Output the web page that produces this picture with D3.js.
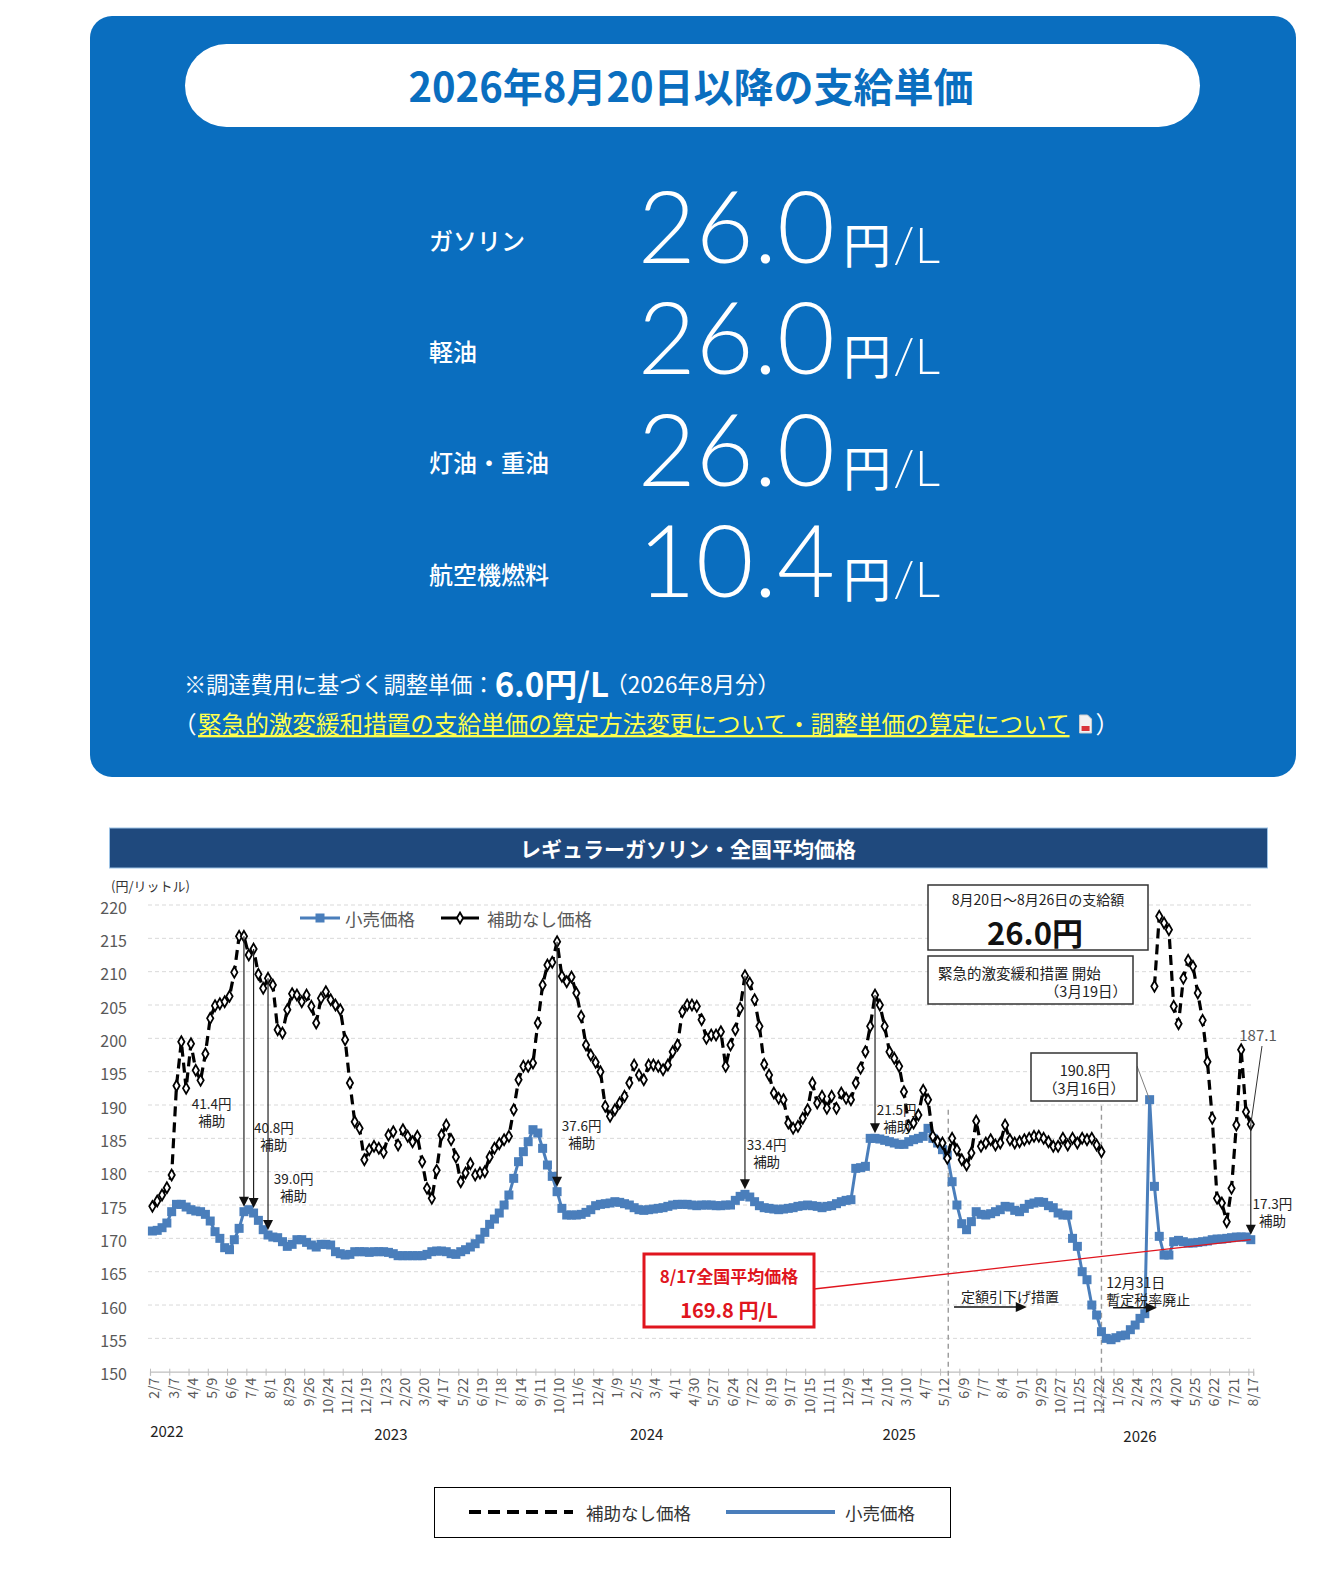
<!DOCTYPE html>
<html><head><meta charset="utf-8">
<script src="https://cdn.jsdelivr.net/npm/d3@7"></script>
<style>html,body{margin:0;padding:0;background:#fff;overflow:hidden}svg{display:block}</style>
</head><body>
<svg id="c" width="1344" height="1576"></svg>
<script>
// ---------- data ----------
const fuelNames = ["ガソリン","軽油","灯油・重油","航空機燃料"];
const fuelRates = ["26.0","26.0","26.0","10.4"];

const xLabels = ["2/7","3/7","4/4","5/9","6/6","7/4","8/1","8/29","9/26","10/24","11/21","12/19",
 "1/23","2/20","3/20","4/17","5/22","6/19","7/18","8/14","9/11","10/10","11/6","12/4",
 "1/9","2/5","3/4","4/1","4/30","5/27","6/24","7/22","8/19","9/17","10/15","11/11","12/9",
 "1/14","2/10","3/10","4/7","5/12","6/9","7/7","8/4","9/1","9/29","10/27","11/25","12/22",
 "1/26","2/24","3/23","4/20","5/25","6/22","7/21","8/17"];
const yTicks = [150,155,160,165,170,175,180,185,190,195,200,205,210,215,220];
const yearLabels = ["2022","2023","2024","2025","2026"];
const yearIndex = [3, 49.5, 102.6, 155, 205];

// 小売価格 (weekly)
const retailPrice = [
171.1,171.2,171.6,172.3,174.0,175.1,175.1,174.7,174.3,174.1,174.0,173.6,172.6,171.0,170.0,168.6,168.3,169.8,171.5,174.0,
174.3,173.8,172.7,171.3,170.5,170.2,170.1,169.5,168.8,169.1,169.8,169.8,169.4,169.0,168.7,169.1,169.1,169.0,168.0,167.7,
167.5,167.6,168.0,168.0,168.0,167.9,168.0,168.0,168.0,167.9,167.7,167.4,167.4,167.4,167.4,167.4,167.4,167.6,168.0,168.1,
168.1,168.0,167.7,167.6,168.0,168.3,168.7,169.2,169.9,170.9,172.1,172.9,173.8,175.0,176.5,179.0,181.5,183.0,184.5,186.3,
185.8,183.5,181.0,179.3,177.0,174.5,173.5,173.5,173.5,173.6,173.9,174.3,174.9,175.1,175.2,175.3,175.5,175.4,175.2,175.0,
174.6,174.3,174.2,174.3,174.4,174.5,174.6,174.8,175.0,175.1,175.1,175.1,175.0,174.9,175.0,175.0,175.0,174.9,174.9,175.0,
175.0,175.7,176.3,176.6,176.2,175.5,174.9,174.6,174.5,174.4,174.3,174.4,174.5,174.6,174.8,174.9,175.0,174.9,174.8,174.6,
174.8,174.9,175.2,175.5,175.7,175.8,180.5,180.6,180.8,185.0,185.0,184.9,184.7,184.5,184.3,184.1,184.1,184.5,184.8,185.0,
185.3,186.5,185.0,184.3,183.3,182.5,178.5,175.0,172.2,171.3,172.5,174.0,173.6,173.5,173.7,174.0,174.3,174.8,174.7,174.2,
174.0,174.5,175.1,175.3,175.5,175.4,174.9,174.6,173.8,173.5,173.5,170.0,168.8,165.0,163.8,160.0,158.5,156.0,155.0,154.8,
155.1,155.4,155.5,156.3,157.0,158.0,158.7,190.8,177.8,170.3,167.5,167.5,169.5,169.7,169.5,169.3,169.3,169.4,169.5,169.6,
169.8,169.9,169.9,170.0,170.1,170.2,170.2,170.2,169.8];

// 補助なし価格 (weekly, null = no data)
const noSubsidyPrice = [
174.8,175.6,176.5,177.6,179.5,192.9,199.5,192.5,199.2,195.2,193.7,197.7,203.0,204.9,205.2,205.5,206.3,209.9,215.3,215.3,
212.5,213.4,209.6,207.5,209.0,208.0,201.3,200.8,204.3,206.7,206.5,205.5,206.5,204.8,202.3,206.0,207.0,205.8,205.0,204.3,
199.8,193.3,187.5,186.5,181.8,183.3,183.8,183.5,182.9,185.5,186.0,184.0,186.3,185.3,184.5,185.3,181.5,177.5,176.0,180.2,
185.5,187.0,184.8,182.2,178.5,179.8,181.2,179.5,179.8,180.0,182.2,183.5,184.2,184.8,185.3,189.3,193.8,195.8,195.8,196.3,
202.3,208.0,211.0,211.4,214.5,209.3,208.5,209.2,206.8,203.3,199.0,197.5,196.4,195.0,189.8,188.3,189.3,190.3,191.3,193.3,
196.0,194.5,193.8,196.0,196.0,195.8,195.3,196.0,198.0,199.0,204.0,205.0,205.0,204.8,202.8,200.0,200.5,200.5,201.0,195.8,
199.0,201.3,204.5,209.4,208.3,205.8,201.8,196.1,194.5,191.8,191.0,190.8,187.3,186.5,186.8,188.0,189.3,193.3,190.3,191.3,
189.5,191.3,189.5,191.8,191.0,190.8,193.3,195.5,198.0,201.8,206.5,205.0,201.8,198.0,197.0,195.8,192.0,186.8,187.3,188.5,
192.2,190.8,185.3,184.5,184.3,182.0,185.0,183.3,181.8,181.0,182.8,187.6,183.8,184.3,184.8,184.0,184.3,187.0,184.8,184.3,
184.5,184.8,185.0,185.3,185.3,185.0,184.5,183.8,183.8,185.0,184.0,185.0,184.3,185.0,184.8,185.0,184.0,183.0,null,null,
null,null,null,null,null,null,null,null,207.8,218.3,217.3,216.3,204.8,202.2,209.0,211.7,210.8,206.8,202.7,196.5,
188.0,176.0,175.3,172.5,177.5,187.0,198.3,189.0,187.1];

// subsidy arrows: week index, label, label anchor (week index, price)
const arrowIndex = [19, 21, 24, 84, 123, 150, 228];
const arrowText = ["41.4円","40.8円","39.0円","37.6円","33.4円","21.5円","17.3円"];
const arrowLabelAt = [[12.3,190.3],[25.2,186.7],[29.3,179.0],[89.1,187.0],[127.5,184.2],[154.5,189.4],[232.5,175.3]];
// event lines (week index): 定額引下げ開始, 暫定税率廃止
const eventIndex = [165.2, 197.0];
const eventTop = [189.3, 189.9];

// ---------- drawing ----------
const svg = d3.select("#c");
const JP = "'Noto Sans CJK JP','Noto Sans',sans-serif";
const NUM = "Lato,'Noto Sans',sans-serif";
const PANEL = "#0a6ebf";

svg.append("rect").attr("width",1344).attr("height",1576).attr("fill","#fff");

// ===== top panel =====
svg.append("rect").attr("x",90).attr("y",16).attr("width",1206).attr("height",761)
  .attr("rx",22).attr("fill",PANEL);
svg.append("rect").attr("x",185).attr("y",44).attr("width",1015).attr("height",83)
  .attr("rx",41.5).attr("fill","#fff");
svg.append("text").attr("x",691).attr("y",84.5).attr("text-anchor","middle")
  .attr("dominant-baseline","central").attr("font-family",JP).attr("font-weight",700)
  .attr("font-size",40).attr("fill",PANEL).text("2026年8月20日以降の支給単価");

const rowY = d3.scalePoint().domain(fuelNames).range([263,597]);
const rows = svg.append("g").selectAll("g").data(fuelNames).join("g");
rows.append("text").attr("x",429).attr("y",d=>rowY(d)-24).attr("dominant-baseline","central")
  .attr("font-family",JP).attr("font-size",24).attr("font-weight",500).attr("fill","#fff").text(d=>d);
rows.append("text").attr("x",835).attr("y",d=>rowY(d)).attr("text-anchor","end")
  .attr("font-family",NUM).attr("font-size",100).attr("font-weight",300).attr("fill","#fff")
  .text((d,i)=>fuelRates[i]);
const unit = rows.append("text").attr("x",843).attr("y",d=>rowY(d)).attr("fill","#fff");
unit.append("tspan").attr("font-family",JP).attr("font-size",48).text("円");
unit.append("tspan").attr("font-family",NUM).attr("font-size",50).attr("font-weight",300).attr("dx",2).text("/L");

const note = svg.append("text").attr("x",184).attr("y",683).attr("dominant-baseline","central")
  .attr("fill","#fff").attr("font-family",JP);
note.append("tspan").attr("font-size",22.2).text("※調達費用に基づく調整単価：");
note.append("tspan").attr("font-size",33).attr("font-weight",700).text("6.0円/L");
note.append("tspan").attr("font-size",22.5).attr("dx",-4).text("（2026年8月分）");

svg.append("text").attr("x",173).attr("y",723).attr("dominant-baseline","central")
  .attr("fill","#fff").attr("font-family",JP).attr("font-size",23.6).text("（");
const link = svg.append("text").attr("x",198).attr("y",723).attr("dominant-baseline","central")
  .attr("fill","#ffff4d").attr("font-family",JP).attr("font-size",23.6)
  .attr("text-decoration","underline")
  .text("緊急的激変緩和措置の支給単価の算定方法変更について・調整単価の算定について");
let lw = 866;
try { lw = link.node().getComputedTextLength(); } catch(e) {}
const ix = 198 + lw + 10;
svg.append("path").attr("d",`M${ix},715 h8 l4,4 v14 h-12 z`).attr("fill","#f2f2f2").attr("stroke","#ccc");
svg.append("rect").attr("x",ix+2).attr("y",726).attr("width",8).attr("height",5).attr("fill","#d9343a");
svg.append("text").attr("x",ix+16).attr("y",723).attr("dominant-baseline","central")
  .attr("fill","#fff").attr("font-family",JP).attr("font-size",23.6).text("）");

// ===== chart =====
svg.append("rect").attr("x",109.5).attr("y",828).attr("width",1158).attr("height",40)
  .attr("fill","#1f497d").attr("stroke","#9dc3e6").attr("stroke-width",1);
svg.append("text").attr("x",688).attr("y",848).attr("text-anchor","middle").attr("dominant-baseline","central")
  .attr("font-family",JP).attr("font-weight",700).attr("font-size",21).attr("fill","#fff")
  .text("レギュラーガソリン・全国平均価格");

const x = d3.scaleLinear().domain([-0.5, 228.5]).range([150, 1253.2]);
const y = d3.scaleLinear().domain([150, 220]).range([1371.7, 905]);

// grid
svg.append("g").selectAll("line").data(yTicks.filter(v=>v>150)).join("line")
  .attr("x1",148).attr("x2",1253).attr("y1",d=>y(d)).attr("y2",d=>y(d))
  .attr("stroke","#d9d9d9").attr("stroke-width",1).attr("stroke-dasharray","4,3");
// y labels
svg.append("g").selectAll("text").data(yTicks).join("text")
  .attr("x",127).attr("y",d=>y(d)+1.5).attr("text-anchor","end").attr("dominant-baseline","central")
  .attr("font-family",JP).attr("font-size",16).attr("fill","#595959").text(d=>d);
svg.append("text").attr("x",111).attr("y",885).attr("dominant-baseline","central")
  .attr("font-family",JP).attr("font-size",13).attr("fill","#333").text("(円/リットル)");

// x axis
const xAxis = d3.axisBottom(x).tickValues(d3.range(0,58).map(k=>4*k-0.5).concat([228.5]))
  .tickSize(4).tickFormat("");
const ax = svg.append("g").attr("transform",`translate(0,${y(150)})`).call(xAxis);
ax.select(".domain").attr("stroke","#bfbfbf").attr("stroke-width",1.2);
ax.selectAll(".tick line").attr("stroke","#bfbfbf").attr("y1",-3);
svg.append("g").selectAll("text").data(xLabels).join("text")
  .attr("transform",(d,k)=>`translate(${x(4*k)+1},${y(150)+6}) rotate(-90)`)
  .attr("text-anchor","end").attr("dominant-baseline","central")
  .attr("font-family",JP).attr("font-size",14).attr("fill","#595959").text(d=>d);
svg.append("g").selectAll("text").data(yearLabels).join("text")
  .attr("x",(d,i)=>x(yearIndex[i])).attr("y",(d,i)=> i<1 ? 1430 : (i===4 ? 1435 : 1433))
  .attr("text-anchor","middle").attr("dominant-baseline","central")
  .attr("font-family",JP).attr("font-size",15).attr("fill","#222").text(d=>d);

// event lines
svg.append("g").selectAll("line").data(eventIndex).join("line")
  .attr("x1",d=>x(d)).attr("x2",d=>x(d)).attr("y1",(d,i)=>y(eventTop[i]))
  .attr("y2",(d,i)=> i===0 ? y(150)+6 : y(150)+41)
  .attr("stroke","#999").attr("stroke-width",1.4).attr("stroke-dasharray","5,4");

// retail series
const blue = "#4a7ebb";
svg.append("path").datum(retailPrice)
  .attr("d",d3.line().x((d,i)=>x(i)).y(d=>y(d)))
  .attr("fill","none").attr("stroke",blue).attr("stroke-width",3);
svg.append("g").selectAll("rect").data(retailPrice).join("rect")
  .attr("x",(d,i)=>x(i)-4.5).attr("y",d=>y(d)-4.5).attr("width",9).attr("height",9).attr("fill",blue);

// red leader to latest
svg.append("line").attr("x1",814).attr("y1",1289).attr("x2",x(228)).attr("y2",y(retailPrice[228]))
  .attr("stroke","#e0151e").attr("stroke-width",1.3);

// no-subsidy series
svg.append("path").datum(noSubsidyPrice)
  .attr("d",d3.line().defined(d=>d!=null).x((d,i)=>x(i)).y(d=>y(d)))
  .attr("fill","none").attr("stroke","#000").attr("stroke-width",3.2).attr("stroke-dasharray","10,6");
const diamond = d3.symbol().type(d3.symbolDiamond).size(34);
svg.append("g").selectAll("path")
  .data(noSubsidyPrice.map((v,i)=>({v,i})).filter(d=>d.v!=null)).join("path")
  .attr("transform",d=>`translate(${x(d.i)},${y(d.v)})`).attr("d",diamond)
  .attr("fill","#fff").attr("stroke","#000").attr("stroke-width",1.8);

// subsidy arrows
const ag = svg.append("g");
arrowIndex.forEach((ii,k)=>{
  const xx = x(ii), y1 = y(noSubsidyPrice[ii]), tip = y(retailPrice[ii]) - 5;
  ag.append("line").attr("x1",xx).attr("x2",xx).attr("y1",y1).attr("y2",tip-8)
    .attr("stroke","#222").attr("stroke-width",1.2);
  ag.append("path").attr("d",`M${xx-5},${tip-10} L${xx+5},${tip-10} L${xx},${tip} Z`).attr("fill","#111");
  const [li,lv] = arrowLabelAt[k];
  const g = ag.append("g").attr("font-family",JP).attr("font-size",13.5).attr("fill","#222").attr("text-anchor","middle");
  g.append("text").attr("x",x(li)).attr("y",y(lv)).attr("dominant-baseline","central").text(arrowText[k]);
  g.append("text").attr("x",x(li)).attr("y",y(lv)+17).attr("dominant-baseline","central").text("補助");
});

// policy notes
const ng = svg.append("g").attr("font-family",JP).attr("font-size",14).attr("fill","#222");
ng.append("text").attr("x",x(178)).attr("y",y(161.35)).attr("text-anchor","middle")
  .attr("dominant-baseline","central").text("定額引下げ措置");
ng.append("text").attr("x",x(198)).attr("y",y(163.5)).attr("dominant-baseline","central").text("12月31日");
ng.append("text").attr("x",x(198)).attr("y",y(160.95)).attr("dominant-baseline","central").text("暫定税率廃止");
[[166.4,181.5,159.7],[199.4,208.5,159.6]].forEach(([a,b,v])=>{
  const yy=y(v);
  ng.append("line").attr("x1",x(a)).attr("x2",x(b)-9).attr("y1",yy).attr("y2",yy).attr("stroke","#111").attr("stroke-width",1.5);
  ng.append("path").attr("d",`M${x(b)-11},${yy-5} L${x(b)},${yy} L${x(b)-11},${yy+5} Z`).attr("fill","#111");
});

// boxes
const bx = svg.append("g").attr("font-family",JP);
bx.append("rect").attr("x",928).attr("y",885).attr("width",220).attr("height",65)
  .attr("fill","#fff").attr("stroke","#333").attr("stroke-width",1.5);
bx.append("text").attr("x",1038).attr("y",898.5).attr("text-anchor","middle").attr("dominant-baseline","central")
  .attr("font-size",14).attr("fill","#222").text("8月20日～8月26日の支給額");
bx.append("text").attr("x",1035).attr("y",931).attr("text-anchor","middle").attr("dominant-baseline","central")
  .attr("font-size",31).attr("font-weight",700).attr("fill","#111").text("26.0円");
bx.append("rect").attr("x",928).attr("y",956).attr("width",205).attr("height",48)
  .attr("fill","#fff").attr("stroke","#333").attr("stroke-width",1.5);
bx.append("text").attr("x",938).attr("y",972).attr("dominant-baseline","central")
  .attr("font-size",14.5).attr("fill","#222").text("緊急的激変緩和措置 開始");
bx.append("text").attr("x",1127).attr("y",990).attr("text-anchor","end").attr("dominant-baseline","central")
  .attr("font-size",14.5).attr("fill","#222").text("（3月19日）");

bx.append("line").attr("x1",1137).attr("y1",1066).attr("x2",x(207)).attr("y2",y(retailPrice[207]))
  .attr("stroke","#7f7f7f").attr("stroke-width",1);
bx.append("rect").attr("x",1031).attr("y",1053).attr("width",106).attr("height",48)
  .attr("fill","#fff").attr("stroke","#333").attr("stroke-width",1.5);
bx.append("text").attr("x",1085).attr("y",1069).attr("text-anchor","middle").attr("dominant-baseline","central")
  .attr("font-size",14.5).attr("fill","#222").text("190.8円");
bx.append("text").attr("x",1084).attr("y",1087).attr("text-anchor","middle").attr("dominant-baseline","central")
  .attr("font-size",14.5).attr("fill","#222").text("（3月16日）");

bx.append("line").attr("x1",1262).attr("y1",1046).attr("x2",x(228)).attr("y2",y(noSubsidyPrice[228]))
  .attr("stroke","#333").attr("stroke-width",1);
bx.append("text").attr("x",1258).attr("y",1034).attr("text-anchor","middle").attr("dominant-baseline","central")
  .attr("font-size",15).attr("fill","#595959").text("187.1");

// red box
bx.append("rect").attr("x",644).attr("y",1254).attr("width",170).attr("height",73)
  .attr("fill","#fff").attr("stroke","#e0151e").attr("stroke-width",3);
bx.append("text").attr("x",729).attr("y",1275).attr("text-anchor","middle").attr("dominant-baseline","central")
  .attr("font-size",17).attr("font-weight",700).attr("fill","#e0151e").text("8/17全国平均価格");
bx.append("text").attr("x",729).attr("y",1309).attr("text-anchor","middle").attr("dominant-baseline","central")
  .attr("font-size",20).attr("font-weight",700).attr("fill","#e0151e").text("169.8 円/L");

// inner legend
const lg = svg.append("g").attr("font-family",JP).attr("font-size",17.5).attr("fill","#595959");
lg.append("line").attr("x1",300).attr("x2",340).attr("y1",918).attr("y2",918).attr("stroke",blue).attr("stroke-width",3);
lg.append("rect").attr("x",315.5).attr("y",913.5).attr("width",9).attr("height",9).attr("fill",blue);
lg.append("text").attr("x",345).attr("y",918).attr("dominant-baseline","central").text("小売価格");
lg.append("line").attr("x1",441).attr("x2",479).attr("y1",918).attr("y2",918).attr("stroke","#000").attr("stroke-width",3);
lg.append("path").attr("transform","translate(460,918)").attr("d",diamond).attr("fill","#fff").attr("stroke","#000").attr("stroke-width",1.8);
lg.append("text").attr("x",487).attr("y",918).attr("dominant-baseline","central").text("補助なし価格");

// bottom legend
const bl = svg.append("g").attr("font-family",JP).attr("font-size",17.5).attr("fill","#333");
bl.append("rect").attr("x",434.5).attr("y",1487.5).attr("width",516).attr("height",50)
  .attr("fill","#fff").attr("stroke","#000").attr("stroke-width",1);
bl.append("line").attr("x1",469).attr("x2",573).attr("y1",1512).attr("y2",1512)
  .attr("stroke","#000").attr("stroke-width",4).attr("stroke-dasharray","12,7");
bl.append("text").attr("x",586).attr("y",1512).attr("dominant-baseline","central").text("補助なし価格");
bl.append("line").attr("x1",726).attr("x2",835).attr("y1",1512).attr("y2",1512)
  .attr("stroke",blue).attr("stroke-width",4);
bl.append("text").attr("x",845).attr("y",1512).attr("dominant-baseline","central").text("小売価格");
</script>
</body></html>
